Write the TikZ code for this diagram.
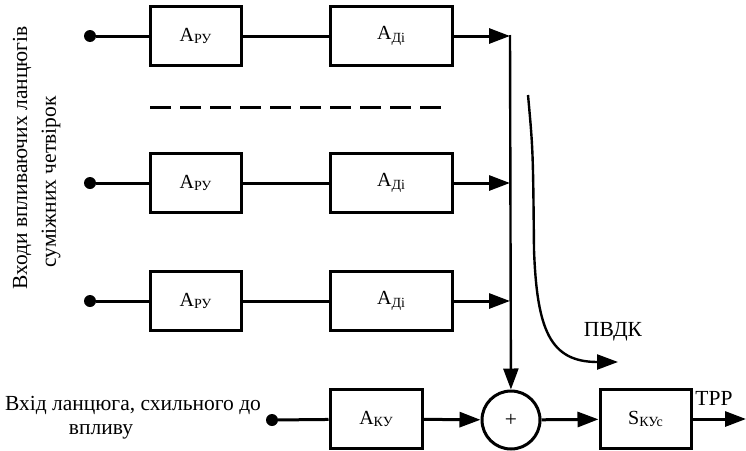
\documentclass[tikz,border=0pt]{standalone}
\usepackage{fontspec}
\setmainfont{Liberation Serif}
\usetikzlibrary{arrows.meta}

\newcommand{\lowidx}[1]{\raisebox{-2.5pt}{\fontsize{14}{14}\selectfont #1}}

\begin{document}
\begin{tikzpicture}[x=1pt,y=-1pt,
  blk/.style={draw, line width=3pt, minimum height=59pt, inner sep=0pt, font=\fontsize{20}{24}\selectfont},
  dot/.style={circle, fill, inner sep=0pt, minimum size=12pt},
  wire/.style={line width=3pt},
  sig/.style={line width=3pt, -{Triangle[length=21pt,width=15pt]}},
  bus/.style={line width=2.4pt},
  txt/.style={font=\fontsize{21.5}{25}\selectfont, inner sep=0pt}]
\useasboundingbox (0,0) rectangle (746,450);

% Side labels
\node[txt, rotate=90] (lab1) at (22,158) {Входи впливаючих ланцюгів};
\node[txt, rotate=90] (lab2) at (51,182) {суміжних четвірок};

% First chain
\node[dot] (in1) at (90,36) {};
\node[blk, minimum width=91pt] (ru1) at (195.5,36) {A\lowidx{РУ}};
\node[blk, minimum width=122pt] (di1) at (391,36) {A\lowidx{Ді}};
\coordinate (j1) at (510,36);
\draw[wire] (in1) -- (ru1);
\draw[wire] (ru1) -- (di1);
\draw[sig] (di1) -- (j1);

% Omitted chains
\coordinate (d1) at (150,107);
\coordinate (d2) at (443,107);
\draw[wire, dash pattern=on 21pt off 9pt] (d1) -- (d2);

% Second chain
\node[dot] (in2) at (90,183) {};
\node[blk, minimum width=91pt] (ru2) at (195.5,183) {A\lowidx{РУ}};
\node[blk, minimum width=122pt] (di2) at (391,183) {A\lowidx{Ді}};
\coordinate (j2) at (510,183);
\draw[wire] (in2) -- (ru2);
\draw[wire] (ru2) -- (di2);
\draw[sig] (di2) -- (j2);

% Third chain
\node[dot] (in3) at (90,301) {};
\node[blk, minimum width=91pt] (ru3) at (195.5,301) {A\lowidx{РУ}};
\node[blk, minimum width=122pt] (di3) at (391,301) {A\lowidx{Ді}};
\coordinate (j3) at (510,301);
\draw[wire] (in3) -- (ru3);
\draw[wire] (ru3) -- (di3);
\draw[sig] (di3) -- (j3);

% Chain under influence
\node[txt] (kin1) at (133,405) {Вхід ланцюга, схильного до};
\node[txt] (kin2) at (101,432) {впливу};
\node[dot] (kin) at (272,420) {};
\node[blk, minimum width=92pt] (ky) at (376,419) {A\lowidx{КУ}};
\node[draw, circle, line width=3pt, minimum size=58pt, inner sep=0pt, txt] (sum) at (511,420) {+};
\node[blk, minimum width=91pt] (skyc) at (645.5,419) {S\lowidx{КУс}};
\coordinate (out) at (746,419);
\node[txt] (trp) at (714,398) {ТРР};
\draw[wire] (kin) -- (ky);
\draw[sig] (ky) -- (sum);
\draw[sig] (sum) -- (skyc);
\draw[sig] (skyc) -- (out);

% Bus to adder
\coordinate (j0) at (510,35);
\draw[bus, -{Triangle[length=21pt,width=15pt]}] (j0) -- (sum);

% Crosstalk flow
\coordinate (c0) at (528,95);
\coordinate (c1) at (534,250);
\coordinate (c2) at (618,362);
\draw[bus, -{Triangle[length=21pt,width=15pt]}] (c0) .. controls (533,150) .. (c1) .. controls (537,330) and (550,362) .. (c2);
\node[txt] (pvdk) at (613,332) {ПВДК};
\end{tikzpicture}
\end{document}
